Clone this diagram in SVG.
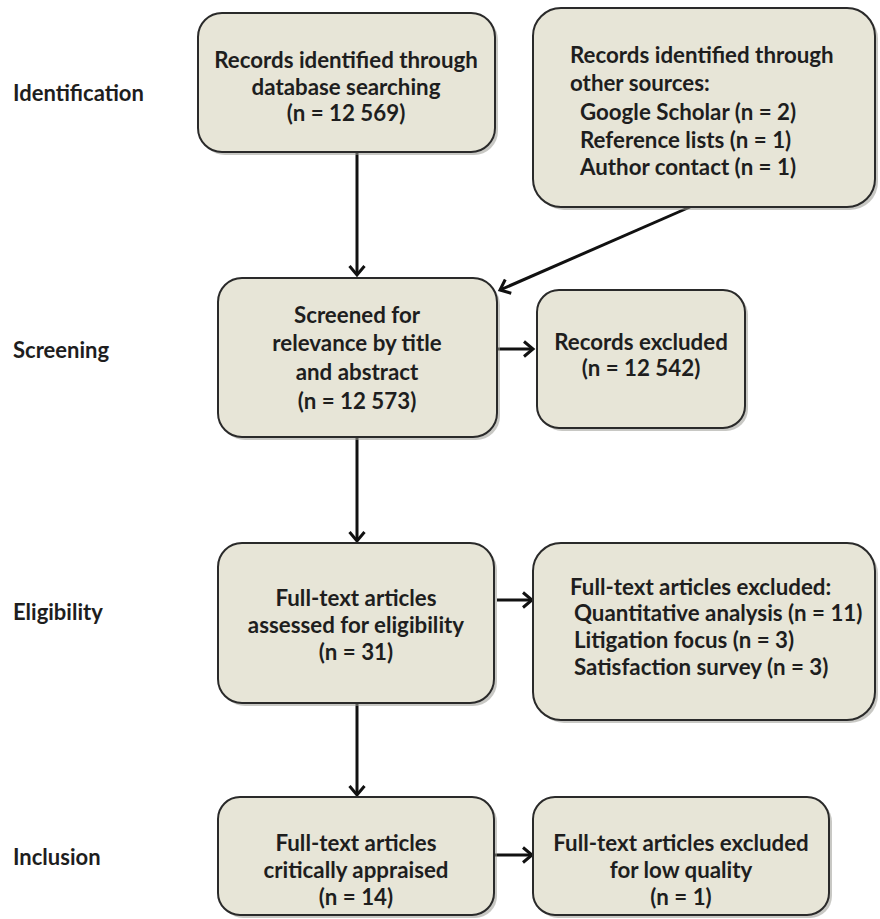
<svg xmlns="http://www.w3.org/2000/svg" width="880" height="919" viewBox="0 0 880 919">
<style>
.box{fill:#e7e5d7;stroke:#2a2a2a;stroke-width:2}
.sh{fill:#9a9a94;opacity:0.55}
.t{font-family:Lato,"Liberation Sans",sans-serif;font-weight:bold;font-size:22.3px;fill:#1e1e1e}
.c{text-anchor:middle}
.lbl{font-family:Lato,"Liberation Sans",sans-serif;font-weight:bold;font-size:22px;fill:#1e1e1e}
.ar{stroke:#111;stroke-width:3;fill:none;marker-end:url(#ah)}
</style>
<defs>
<marker id="ah" markerWidth="14" markerHeight="18" refX="11" refY="9" orient="auto" markerUnits="userSpaceOnUse">
<path d="M2,1.5 L11,9 L2,16.5" fill="none" stroke="#111" stroke-width="3"/>
</marker>
</defs>
<g id="labels">
<text class="lbl" x="13" y="101">Identification</text>
<text class="lbl" x="13" y="358">Screening</text>
<text class="lbl" x="13" y="620">Eligibility</text>
<text class="lbl" x="13" y="865">Inclusion</text>
</g>
<g id="connectors">
<line class="ar" x1="357" y1="152" x2="357" y2="275"/>
<line class="ar" x1="690" y1="207" x2="500" y2="290"/>
<line class="ar" x1="497" y1="349" x2="533" y2="349"/>
<line class="ar" x1="357" y1="437" x2="357" y2="541"/>
<line class="ar" x1="497" y1="600" x2="532" y2="600"/>
<line class="ar" x1="357" y1="703" x2="357" y2="795"/>
<line class="ar" x1="495" y1="855" x2="532" y2="855"/>
</g>
<g id="n1">
<rect class="sh" x="201" y="16" width="297" height="139" rx="24"/>
<rect class="box" x="198" y="13" width="297" height="139" rx="24"/>
<text class="t c" x="346" y="68">Records identified through</text>
<text class="t c" x="346" y="95">database searching</text>
<text class="t c" x="346" y="121">(n = 12 569)</text>
</g>
<g id="n2">
<rect class="sh" x="536" y="11" width="342" height="199" rx="28"/>
<rect class="box" x="533" y="8" width="342" height="199" rx="28"/>
<text class="t" x="570" y="63">Records identified through</text>
<text class="t" x="570" y="91">other sources:</text>
<text class="t" x="580" y="120">Google Scholar (n = 2)</text>
<text class="t" x="580" y="148">Reference lists (n = 1)</text>
<text class="t" x="580" y="175">Author contact (n = 1)</text>
</g>
<g id="n3">
<rect class="sh" x="221" y="281" width="279" height="159" rx="24"/>
<rect class="box" x="218" y="278" width="279" height="159" rx="24"/>
<text class="t c" x="357" y="323">Screened for</text>
<text class="t c" x="357" y="351">relevance by title</text>
<text class="t c" x="357" y="380">and abstract</text>
<text class="t c" x="357" y="409">(n = 12 573)</text>
</g>
<g id="n4">
<rect class="sh" x="540" y="293" width="208" height="138" rx="22"/>
<rect class="box" x="537" y="290" width="208" height="138" rx="22"/>
<text class="t c" x="641" y="350">Records excluded</text>
<text class="t c" x="641" y="376">(n = 12 542)</text>
</g>
<g id="n5">
<rect class="sh" x="221" y="546" width="276" height="160" rx="24"/>
<rect class="box" x="218" y="543" width="276" height="160" rx="24"/>
<text class="t c" x="356" y="606">Full-text articles</text>
<text class="t c" x="356" y="633">assessed for eligibility</text>
<text class="t c" x="356" y="660">(n = 31)</text>
</g>
<g id="n6">
<rect class="sh" x="536" y="546" width="342" height="177" rx="28"/>
<rect class="box" x="533" y="543" width="342" height="177" rx="28"/>
<text class="t" x="570" y="595">Full-text articles excluded:</text>
<text class="t" x="574" y="621">Quantitative analysis (n = 11)</text>
<text class="t" x="574" y="648">Litigation focus (n = 3)</text>
<text class="t" x="574" y="675">Satisfaction survey (n = 3)</text>
</g>
<g id="n7">
<rect class="sh" x="221" y="800" width="276" height="118" rx="22"/>
<rect class="box" x="218" y="797" width="276" height="118" rx="22"/>
<text class="t c" x="356" y="851">Full-text articles</text>
<text class="t c" x="356" y="878">critically appraised</text>
<text class="t c" x="356" y="905">(n = 14)</text>
</g>
<g id="n8">
<rect class="sh" x="536" y="800" width="296" height="118" rx="22"/>
<rect class="box" x="533" y="797" width="296" height="118" rx="22"/>
<text class="t c" x="681" y="851">Full-text articles excluded</text>
<text class="t c" x="681" y="878">for low quality</text>
<text class="t c" x="681" y="905">(n = 1)</text>
</g>
</svg>
